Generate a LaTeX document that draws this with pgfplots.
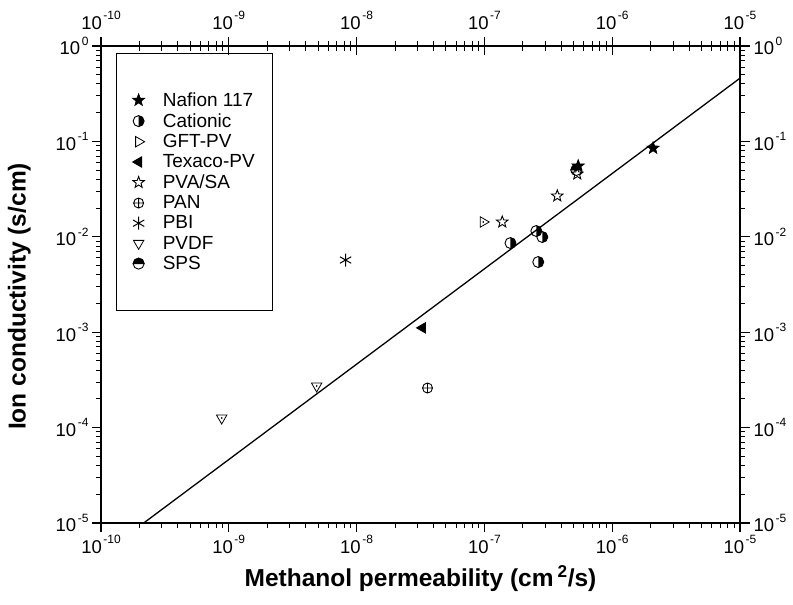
\documentclass[border=0pt]{standalone}
\usepackage{pgfplots}
\pgfplotsset{compat=1.18}
\usepackage{fontspec}
\setmainfont{Liberation Sans}

\newcommand{\starpath}{%
 \pgfpathmoveto{\pgfpointpolar{90}{\pgfplotmarksize}}%
 \pgfpathlineto{\pgfpointpolar{126}{0.42\pgfplotmarksize}}%
 \pgfpathlineto{\pgfpointpolar{162}{\pgfplotmarksize}}%
 \pgfpathlineto{\pgfpointpolar{198}{0.42\pgfplotmarksize}}%
 \pgfpathlineto{\pgfpointpolar{234}{\pgfplotmarksize}}%
 \pgfpathlineto{\pgfpointpolar{270}{0.42\pgfplotmarksize}}%
 \pgfpathlineto{\pgfpointpolar{306}{\pgfplotmarksize}}%
 \pgfpathlineto{\pgfpointpolar{342}{0.42\pgfplotmarksize}}%
 \pgfpathlineto{\pgfpointpolar{18}{\pgfplotmarksize}}%
 \pgfpathlineto{\pgfpointpolar{54}{0.42\pgfplotmarksize}}%
 \pgfpathclose}
\pgfdeclareplotmark{pstar}{\starpath\pgfusepathqfillstroke}
\pgfdeclareplotmark{halfright}{%
 \pgfpathmoveto{\pgfqpoint{0pt}{\pgfplotmarksize}}%
 \pgfpatharc{90}{-90}{\pgfplotmarksize}%
 \pgfpathclose
 \pgfusepathqfill
 \pgfpathcircle{\pgfpointorigin}{\pgfplotmarksize}%
 \pgfusepathqstroke}
\pgfdeclareplotmark{halftop}{%
 \pgfpathmoveto{\pgfqpoint{-\pgfplotmarksize}{0pt}}%
 \pgfpatharc{180}{0}{\pgfplotmarksize}%
 \pgfpathclose
 \pgfusepathqfillstroke
 \pgfpathcircle{\pgfpointorigin}{\pgfplotmarksize}%
 \pgfusepathqstroke}

\pgfplotsset{
  log number format basis/.code 2 args={\pgfmathtruncatemacro\myexp{round(#2)}\mbox{\fontsize{18.5}{20}\selectfont #1\hspace{1.5pt}\raisebox{9.5pt}{\fontsize{12}{12}\selectfont\myexp}}},
}

\begin{document}
\begin{tikzpicture}
\begin{axis}[
  scale only axis, width=639pt, height=477pt,
  xmode=log, ymode=log,
  xmin=1e-10, xmax=1e-5, ymin=1e-5, ymax=1,
  axis line style={line width=1.4pt},
  major tick style={line width=1.2pt, black},
  minor tick style={line width=1pt, black},
  tick label style={font=\fontsize{18}{20}\selectfont},
  at={(0,0)}, anchor=south west,
  tick align=outside,
  major tick length=9pt, minor tick length=5pt,
  xtick pos=left, ytick pos=left,
  xlabel={\bfseries Methanol permeability (cm\,\textsuperscript{2}/s)},
  ylabel={\bfseries Ion conductivity (s/cm)},
  label style={font=\fontsize{24.5}{28}\selectfont},
  xlabel style={at={(rel axis cs:0.5,0)}, anchor=center, yshift=-56pt},
  ylabel style={at={(axis description cs:-0.128,0.475)}, anchor=center},
  legend cell align=left,
  legend style={at={(rel axis cs:0.0235,0.985)}, anchor=north west,
    draw=black, line width=0.9pt, inner xsep=16pt, inner ysep=37pt,
    row sep=1.6pt, column sep=16pt, font=\fontsize{19}{21}\selectfont},
]
\addplot[black, line width=1.3pt, forget plot] coordinates {(2.16e-10,1e-5) (1e-5,0.46)};

\addplot[only marks, mark=pstar, mark size=6.5pt, mark options={fill=black, line width=0.6pt}]
  coordinates {(2.09e-6,0.085) (5.42e-7,0.0552)};
\addlegendentry{Nafion 117}
\addplot[only marks, mark=halfright, mark size=5.5pt, mark options={fill=black, line width=0.9pt}]
  coordinates {(1.6e-7,0.0086) (2.55e-7,0.0115) (2.84e-7,0.00995) (2.64e-7,0.00544)};
\addlegendentry{Cationic}
\addplot[only marks, mark=triangle, mark size=6pt, mark options={rotate=-90, fill=white, line width=0.8pt}]
  coordinates {(9.8e-8,0.0143)};
\addlegendentry{GFT-PV}
\addplot[only marks, mark=triangle*, mark size=6pt, mark options={rotate=90, fill=black, line width=0.8pt}]
  coordinates {(3.28e-8,0.00111)};
\addlegendentry{Texaco-PV}
\addplot[only marks, mark=pstar, mark size=6pt, mark options={fill=white, line width=0.9pt}]
  coordinates {(5.33e-7,0.0455) (3.72e-7,0.0268) (1.38e-7,0.0143)};
\addlegendentry{PVA/SA}
\addplot[only marks, mark=oplus, mark size=5pt, mark options={fill=white, line width=0.9pt}]
  coordinates {(3.59e-8,2.6e-4)};
\addlegendentry{PAN}
\addplot[only marks, mark=asterisk, mark size=6.5pt, mark options={line width=1pt}]
  coordinates {(8.2e-9,0.00571)};
\addlegendentry{PBI}
\addplot[only marks, mark=triangle, mark size=6pt, mark options={rotate=180, fill=white, line width=0.8pt}]
  coordinates {(4.87e-9,2.73e-4) (8.8e-10,1.26e-4)};
\addlegendentry{PVDF}
\addplot[only marks, mark=halftop, mark size=5.5pt, mark options={fill=black, line width=0.9pt}]
  coordinates {(5.24e-7,0.0501)};
\addlegendentry{SPS}
\addplot[only marks, mark=*, mark size=0.6pt, forget plot]
  coordinates {(9.8e-8,0.0143) (4.87e-9,2.73e-4) (8.8e-10,1.26e-4)};
\end{axis}
\begin{axis}[
  scale only axis, width=639pt, height=477pt,
  xmode=log, ymode=log,
  xmin=1e-10, xmax=1e-5, ymin=1e-5, ymax=1,
  axis line style={line width=1.4pt},
  major tick style={line width=1.2pt, black},
  minor tick style={line width=1pt, black},
  tick label style={font=\fontsize{18}{20}\selectfont},
  xticklabel style={yshift=4pt},
  at={(0,0)}, anchor=south west,
  tick align=center,
  major tick length=18pt, minor tick length=10pt,
  xtick pos=right, xticklabel pos=right,
  ytick=\empty,
]
\end{axis}
\begin{axis}[
  scale only axis, width=639pt, height=477pt,
  xmode=log, ymode=log,
  xmin=1e-10, xmax=1e-5, ymin=1e-5, ymax=1,
  axis line style={line width=1.4pt},
  major tick style={line width=1.2pt, black},
  minor tick style={line width=1pt, black},
  tick label style={font=\fontsize{18}{20}\selectfont},
  at={(0,0)}, anchor=south west,
  tick align=outside,
  major tick length=10pt, minor tick length=5pt,
  ytick pos=right, yticklabel pos=right,
  xtick=\empty,
]
\end{axis}
\pgfresetboundingbox
\path[use as bounding box] (-101pt,-82pt) rectangle (692pt,523pt);
\end{tikzpicture}
\end{document}
